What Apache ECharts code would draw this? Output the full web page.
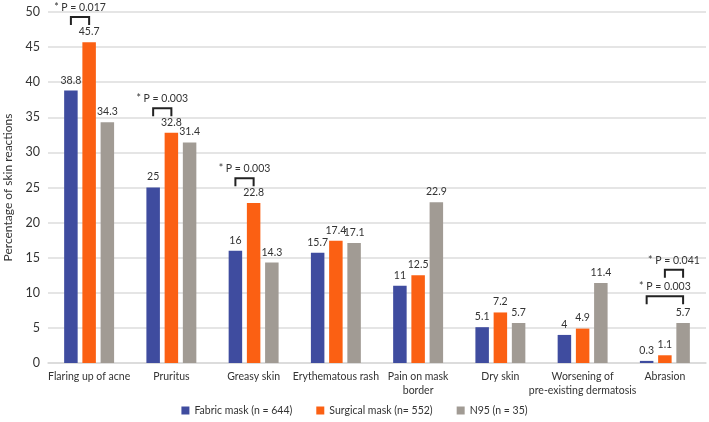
<!DOCTYPE html>
<html><head><meta charset="utf-8">
<script src="https://cdn.jsdelivr.net/npm/echarts@6/dist/echarts.min.js"></script>
<style>html,body{margin:0;padding:0;background:#fff}#c{width:709px;height:422px}</style>
</head><body><div id="c"></div>
<script>
const categories = ['Flaring up of acne','Pruritus','Greasy skin','Erythematous rash','Pain on mask\nborder','Dry skin','Worsening of\npre-existing dermatosis','Abrasion'];
const fabric = [38.8, 25, 16, 15.7, 11, 5.1, 4, 0.3];
const surgical = [45.7, 32.8, 22.8, 17.4, 12.5, 7.2, 4.9, 1.1];
const n95 = [34.3, 31.4, 14.3, 17.1, 22.9, 5.7, 11.4, 5.7];
const seriesNames = ['Fabric mask (n = 644)', 'Surgical mask (n= 552)', 'N95 (n = 35)'];
const yTicks = {min: 0, max: 50, interval: 5};
// significance brackets: [category index, from bar, to bar, bracket value, label]
const brackets = [
  [0, 0, 1, 49.3, '* P = 0.017'],
  [1, 0, 1, 36.3, '* P = 0.003'],
  [2, 0, 1, 26.3, '* P = 0.003'],
  [7, 1, 2, 13.3, '* P = 0.041'],
  [7, 0, 2, 9.5, '* P = 0.003']
];
const colors = ['#3f4c9f', '#fb6013', '#a19b94'];
const FONT = 'Lato, "Open Sans", sans-serif';
const BAR_W = 13.5, BAR_GAP = 0.35;

const chart = echarts.init(document.getElementById('c'), null, {renderer: 'canvas'});
const labelOpt = {show: true, position: 'top', distance: 5, color: '#333', fontSize: 10.5, fontFamily: FONT};
const mkBar = (name, data, i) => ({
  name, type: 'bar', data, barWidth: BAR_W, barGap: (BAR_GAP*100)+'%',
  itemStyle: {color: colors[i]}, label: labelOpt, z: 2
});
chart.setOption({
  animation: false,
  textStyle: {fontFamily: FONT},
  grid: {left: 48, right: 3, top: 12, bottom: 59, containLabel: false, outerBoundsMode: 'none'},
  legend: {
    bottom: 1, left: 'center', itemWidth: 8, itemHeight: 8, itemGap: 24, icon: 'rect',
    textStyle: {fontSize: 10.5, color: '#333', fontFamily: FONT},
    data: seriesNames
  },
  xAxis: {
    type: 'category', data: categories,
    axisLine: {lineStyle: {color: '#d9d9d9', width: 1.5}},
    axisTick: {show: false},
    axisLabel: {color: '#333', fontSize: 10.5, margin: 7, interval: 0, lineHeight: 14, fontFamily: FONT}
  },
  yAxis: {
    type: 'value', min: yTicks.min, max: yTicks.max, interval: yTicks.interval,
    name: 'Percentage of skin reactions', nameLocation: 'middle', nameGap: 33,
    nameTextStyle: {fontSize: 12, color: '#333', fontFamily: FONT},
    axisLine: {show: false}, axisTick: {show: false},
    axisLabel: {color: '#333', fontSize: 12.5, margin: 8, fontFamily: FONT},
    splitLine: {lineStyle: {color: '#dcdcdc', width: 1.5}}
  },
  series: [
    mkBar(seriesNames[0], fabric, 0),
    mkBar(seriesNames[1], surgical, 1),
    mkBar(seriesNames[2], n95, 2),
    {
      type: 'custom', name: 'brackets', silent: true, z: 5,
      coordinateSystem: 'cartesian2d',
      data: brackets.map(b => [b[0], b[3], b[1], b[2]]),
      renderItem: function (params, api) {
        const idx = params.dataIndex;
        const b = brackets[idx];
        const p = api.coord([api.value(0), api.value(1)]);
        const step = BAR_W * (1 + BAR_GAP);
        const x1 = p[0] + (b[1] - 1) * step;
        const x2 = p[0] + (b[2] - 1) * step;
        const y = p[1];
        const tick = 8;
        return {
          type: 'group',
          children: [
            {type: 'polyline', shape: {points: [[x1, y + tick], [x1, y], [x2, y], [x2, y + tick]]},
             style: {stroke: '#222', lineWidth: 2, fill: null}},
            {type: 'text', x: (x1 + x2) / 2, y: y - 4,
             style: {text: b[4], fill: '#333', fontSize: 10.5, fontFamily: FONT, align: 'center', verticalAlign: 'bottom'}}
          ]
        };
      }
    }
  ]
});
</script></body></html>
